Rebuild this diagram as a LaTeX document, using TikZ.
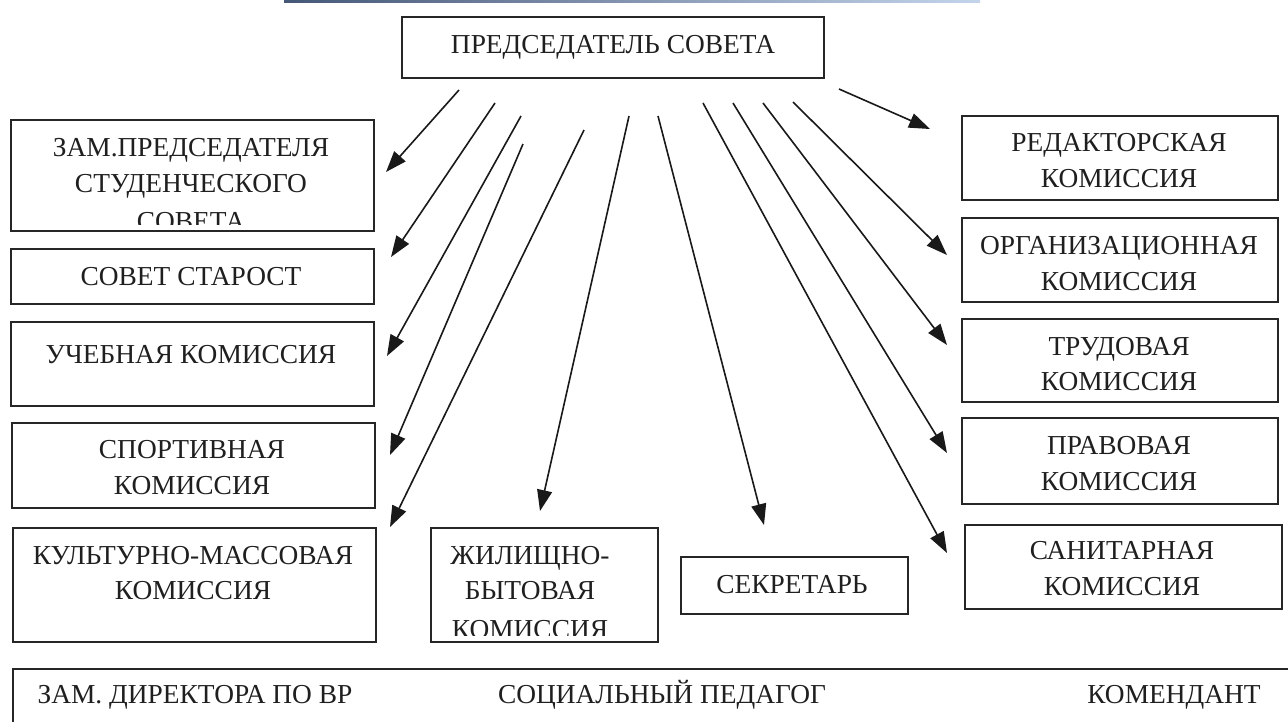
\documentclass[tikz,border=0pt]{standalone}
\usepackage{fontspec}
\setmainfont{Liberation Serif}
\usetikzlibrary{arrows.meta,calc}
\definecolor{scanL}{RGB}{70,88,120}
\definecolor{scanR}{RGB}{195,212,235}
\begin{document}
\begin{tikzpicture}[x=1pt,y=-1pt,
  box/.style={draw=black!85, line width=1.8pt, inner sep=0pt, anchor=north west},
  txt/.style={inner sep=0pt, text height=18pt, text depth=0pt, text=black!88,
              font=\fontsize{27.4pt}{30pt}\selectfont},
  arr/.style={draw=black!90, line width=1.6pt, -{Triangle[length=21pt,width=15pt]}}]
\clip (0,0) rectangle (1288,721);
\fill[white] (0,0) rectangle (1288,721);
% scan edge line at top
\shade[left color=scanL, right color=scanR] (284,0) rectangle (980,2.2);

% boxes
\node[box, minimum width=422pt, minimum height=61pt] (pred) at (401,16) {};
\node[box, minimum width=363pt, minimum height=111pt] (zam) at (10,119) {};
\node[box, minimum width=363pt, minimum height=55pt] (star) at (10,248) {};
\node[box, minimum width=363pt, minimum height=84pt] (ucheb) at (10,321) {};
\node[box, minimum width=363pt, minimum height=85pt] (sport) at (11,422) {};
\node[box, minimum width=363pt, minimum height=114pt] (kult) at (12,527) {};
\node[box, minimum width=227pt, minimum height=114pt] (zhil) at (430,527) {};
\node[box, minimum width=227pt, minimum height=57pt] (sekr) at (680,556) {};
\node[box, minimum width=316pt, minimum height=84pt] (redak) at (961,115) {};
\node[box, minimum width=316pt, minimum height=84pt] (organ) at (961,217) {};
\node[box, minimum width=316pt, minimum height=83pt] (trud) at (961,318) {};
\node[box, minimum width=316pt, minimum height=86pt] (prav) at (961,417) {};
\node[box, minimum width=317pt, minimum height=84pt] (sanit) at (964,524) {};
\node[box, minimum width=1300pt, minimum height=90pt] (bottom) at (12,668) {};

% texts
\node[txt] (t-pred) at (613,44) {ПРЕДСЕДАТЕЛЬ СОВЕТА};
\begin{scope}
\clip ($(zam.north west)+(2,2)$) rectangle ($(zam.south east)+(-2,-7)$);
\node[txt] (t-zam1) at (191,147) {ЗАМ.ПРЕДСЕДАТЕЛЯ};
\node[txt] (t-zam2) at (191,183) {СТУДЕНЧЕСКОГО};
\node[txt] (t-zam3) at (191,221) {СОВЕТА};
\end{scope}
\node[txt] (t-star) at (191,276) {СОВЕТ СТАРОСТ};
\node[txt] (t-ucheb) at (191,354) {УЧЕБНАЯ КОМИССИЯ};
\node[txt] (t-sport1) at (192,449) {СПОРТИВНАЯ};
\node[txt] (t-sport2) at (192,485) {КОМИССИЯ};
\node[txt] (t-kult1) at (193,555) {КУЛЬТУРНО-МАССОВАЯ};
\node[txt] (t-kult2) at (193,590) {КОМИССИЯ};
\begin{scope}
\clip ($(zhil.north west)+(2,2)$) rectangle ($(zhil.south east)+(-2,-7)$);
\node[txt] (t-zhil1) at (530,555) {ЖИЛИЩНО-};
\node[txt] (t-zhil2) at (530,590) {БЫТОВАЯ};
\node[txt] (t-zhil3) at (530,629) {КОМИССИЯ};
\end{scope}
\node[txt] (t-sekr) at (792,584) {СЕКРЕТАРЬ};
\node[txt] (t-redak1) at (1119,142) {РЕДАКТОРСКАЯ};
\node[txt] (t-redak2) at (1119,178) {КОМИССИЯ};
\node[txt] (t-organ1) at (1119,245) {ОРГАНИЗАЦИОННАЯ};
\node[txt] (t-organ2) at (1119,281) {КОМИССИЯ};
\node[txt] (t-trud1) at (1119,346) {ТРУДОВАЯ};
\node[txt] (t-trud2) at (1119,381) {КОМИССИЯ};
\node[txt] (t-prav1) at (1119,445) {ПРАВОВАЯ};
\node[txt] (t-prav2) at (1119,481) {КОМИССИЯ};
\node[txt] (t-sanit1) at (1122,550) {САНИТАРНАЯ};
\node[txt] (t-sanit2) at (1122,586) {КОМИССИЯ};
\node[txt] (t-b1) at (195,694) {ЗАМ. ДИРЕКТОРА ПО ВР};
\node[txt] (t-b2) at (662,694) {СОЦИАЛЬНЫЙ ПЕДАГОГ};
\node[txt] (t-b3) at (1174,694) {КОМЕНДАНТ};

% arrow ends
\coordinate (s1) at (459,90);   \coordinate (e1) at (386,172);
\coordinate (s2) at (495,103);  \coordinate (e2) at (391,257);
\coordinate (s3) at (521,116);  \coordinate (e3) at (387,356);
\coordinate (s4) at (523,144);  \coordinate (e4) at (390,455);
\coordinate (s5) at (584,130);  \coordinate (e5) at (390,527);
\coordinate (s6) at (629,116);  \coordinate (e6) at (540,511);
\coordinate (s7) at (658,116);  \coordinate (e7) at (764,525);
\coordinate (s8) at (703,103);  \coordinate (e8) at (947,553);
\coordinate (s9) at (733,103);  \coordinate (e9) at (947,453);
\coordinate (s10) at (763,103); \coordinate (e10) at (947,345);
\coordinate (s11) at (793,102); \coordinate (e11) at (947,255);
\coordinate (s12) at (839,89);  \coordinate (e12) at (930,129);

\foreach \i in {1,...,12} { \draw[arr] (s\i) -- (e\i); }
\end{tikzpicture}
\end{document}
